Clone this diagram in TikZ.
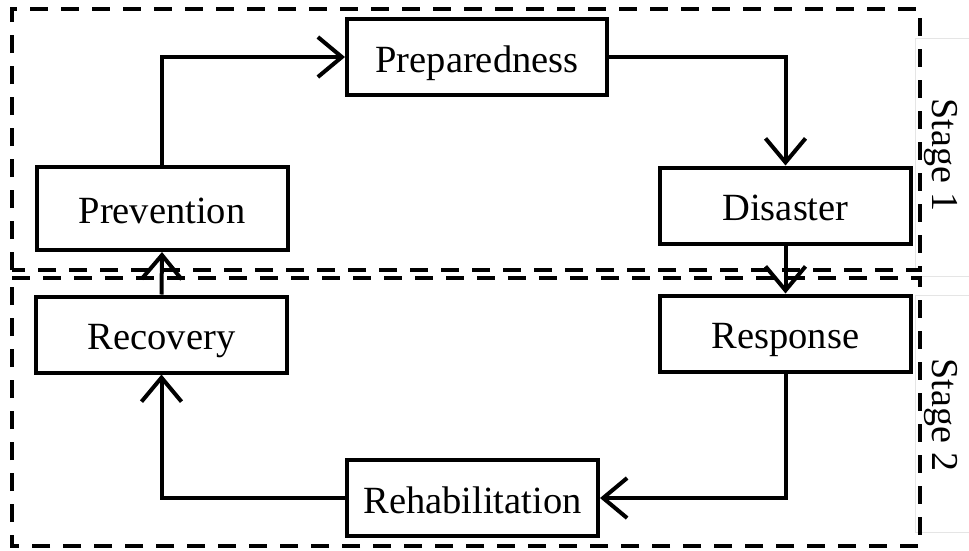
\documentclass[tikz,border=0pt]{standalone}
\usepackage{fontspec}
\setmainfont{Liberation Serif}
\usetikzlibrary{arrows.meta}
\begin{document}
\begin{tikzpicture}[x=1pt,y=-1pt,
  stagebox/.style={line width=4pt, dash pattern=on 18pt off 13pt},
  phase/.style={draw, line width=4pt, minimum height=76pt, minimum width=251pt, inner sep=0pt,
    text height=33pt, text depth=3pt, font=\fontsize{38.5}{40}\selectfont},
  flow/.style={line width=4pt, -{Straight Barb[length=24pt,width=40pt,line width=4pt]}},
  stagelbl/.style={rotate=-90, font=\fontsize{38}{40}\selectfont, inner sep=0pt},
  faint/.style={draw=gray!20, line width=0.8pt}]
\useasboundingbox (0,0) rectangle (969,550);
% faint background lines
\draw[faint] (969,38) -- (915,38) -- (915,272);
\draw[faint] (969,276) -- (922,276);
\draw[faint] (969,295) -- (915,295) -- (915,532) -- (969,532);
% stage boxes
\draw[stagebox] (12,270) -- (12,9) -- (920,9) -- (920,270) -- cycle;
\draw[stagebox] (12,278) -- (920,278) -- (920,546) -- (12,546) -- cycle;
% nodes
\node[phase, minimum width=260pt] (prep) at (477,57) {Preparedness};
\node[phase, minimum height=83pt] (prev) at (162,208.5) {Prevention};
\node[phase] (dis) at (785.5,205.5) {Disaster};
\node[phase] (resp) at (785.5,333.5) {Response};
\node[phase] (rec) at (161.5,334.5) {Recovery};
\node[phase] (rehab) at (472.5,498) {Rehabilitation};
\node[stagelbl] (s1) at (941,155) {Stage 1};
\node[stagelbl] (s2) at (941,415) {Stage 2};
% connectors
\draw[flow] (prev.north) |- (prep.west);
\draw[flow] (prep.east) -| (dis.north);
\draw[flow] (dis.south) -- (resp.north);
\draw[flow] (resp.south) |- (rehab.east);
\draw[flow] (rehab.west) -| (rec.south);
\draw[flow] (rec.north) -- (prev.south);
\end{tikzpicture}
\end{document}
